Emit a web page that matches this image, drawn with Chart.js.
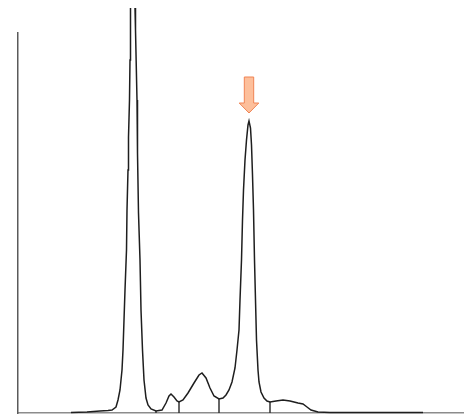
<!DOCTYPE html>
<html>
<head>
<meta charset="utf-8">
<script src="https://cdn.jsdelivr.net/npm/chart.js@4/dist/chart.umd.min.js"></script>
<style>
  html, body { margin: 0; padding: 0; background: #fff; }
  #wrap { width: 464px; height: 415px; position: relative; }
</style>
</head>
<body>
<div id="wrap"><canvas id="myChart"></canvas></div>
<script>
// detector trace (time in samples, signal in arbitrary units)
var times = [53, 69, 82, 90, 94, 98, 100, 102, 104, 105, 106, 107, 108.5, 109, 110, 110.5, 111.5, 112, 112.5, 114.5,
    117, 117.5, 119, 119.5, 120.5, 122, 123, 124.5, 126, 128, 130, 133, 138,
    144, 148, 151, 153, 156, 159, 161,
    165, 170, 176, 181, 184, 188, 192, 196, 201,
    205, 208, 211, 214, 217, 219, 221, 222, 223.5, 224.5, 225.5, 227, 228.5, 230, 231,
    232.5, 233.5, 234.5, 235.5, 236.5, 237.5, 238.5, 240, 241, 243, 246, 249, 252,
    258, 265, 272, 280, 285, 289, 293, 300, 312, 405];
var signal = [0.5, 1, 2, 2.5, 3, 6, 13, 23, 43, 63, 93, 123, 163, 203, 243, 276, 313, 353, 405, 470,
    405, 383, 313, 260, 200, 153, 103, 63, 33, 15, 8, 4, 2,
    3, 10, 17, 19, 16, 12, 11,
    13, 20, 30, 38, 40, 35, 25, 17, 14,
    15, 18, 23, 31, 45, 63, 83, 113, 153, 193, 223, 253, 273, 288, 292,
    285, 268, 238, 203, 153, 113, 73, 43, 31, 21, 15, 12, 11,
    12, 13, 12, 10, 9, 6, 3, 1, 0.5, 0.5];

// peak boundaries (drop lines) and the marked peak
var valleyTimes = [138, 161, 201, 252];
var markedPeak = 231;

var trace = times.map(function (t, i) { return { x: t, y: signal[i] }; });

var dropSets = valleyTimes.map(function (t) {
    var v = signal[times.indexOf(t)];
    return {
        data: [{ x: t, y: 0 }, { x: t, y: v }],
        borderColor: '#333',
        borderWidth: 1.5,
        pointRadius: 0,
        fill: false
    };
});

// orange arrow pointing down at the marked peak
var arrowPlugin = {
    id: 'arrow',
    afterDatasetsDraw: function (chart) {
        var xs = chart.scales.x, ys = chart.scales.y;
        var px = xs.getPixelForValue(markedPeak);
        var py = ys.getPixelForValue(signal[times.indexOf(markedPeak)]);
        var tip = py - 8, headTop = tip - 10, top = tip - 36;
        var ctx = chart.ctx;
        ctx.save();
        ctx.beginPath();
        ctx.moveTo(px - 4.7, top);
        ctx.lineTo(px + 4.7, top);
        ctx.lineTo(px + 4.7, headTop);
        ctx.lineTo(px + 9.8, headTop);
        ctx.lineTo(px, tip);
        ctx.lineTo(px - 9.8, headTop);
        ctx.lineTo(px - 4.7, headTop);
        ctx.closePath();
        ctx.fillStyle = '#fdbf9b';
        ctx.fill();
        ctx.strokeStyle = '#f08454';
        ctx.lineWidth = 1;
        ctx.stroke();
        ctx.restore();
    }
};

var ctx = document.getElementById('myChart').getContext('2d');
var chart = new Chart(ctx, {
    type: 'line',
    data: {
        datasets: [{
            data: trace,
            borderColor: '#1e1e1e',
            borderWidth: 1.5,
            pointRadius: 0,
            tension: 0,
            fill: false,
            clip: { left: 0, top: 25, right: 0, bottom: 2 }
        }].concat(dropSets)
    },
    plugins: [arrowPlugin],
    options: {
        responsive: true,
        maintainAspectRatio: false,
        animation: false,
        layout: { padding: { left: 18, top: 33, right: 0, bottom: 2 } },
        plugins: {
            legend: { display: false },
            tooltip: { enabled: false }
        },
        scales: {
            x: {
                type: 'linear',
                min: 0,
                max: 446,
                grid: { display: false, drawTicks: false },
                ticks: { display: false },
                border: { color: '#8c8c8c', width: 1.5 }
            },
            y: {
                min: 0,
                max: 380,
                grid: { display: false, drawTicks: false },
                ticks: { display: false },
                border: { color: '#5a5a5a', width: 1.5 }
            }
        }
    }
});
</script>
</body>
</html>
